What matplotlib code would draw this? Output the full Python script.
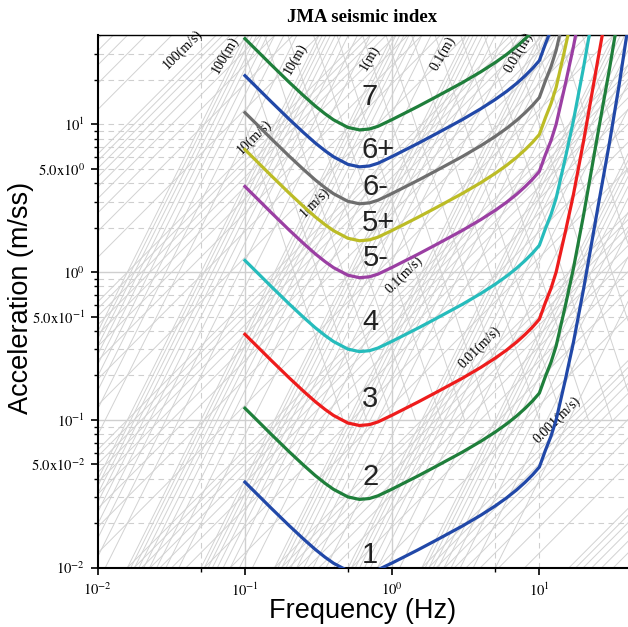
import numpy as np
import matplotlib.pyplot as plt
from matplotlib.ticker import FixedLocator, NullFormatter

plt.rcParams['mathtext.fontset'] = 'stix'

# frequency points of the intensity boundary curves (Hz)
freq = [0.1, 0.12, 0.15, 0.2, 0.25, 0.3, 0.35, 0.4, 0.5, 0.6, 0.7, 0.8, 1,
        1.5, 2, 3, 4, 5, 6, 7, 8, 9, 10, 11, 12, 13, 14, 15, 17, 20, 25,
        30, 35, 40]

# log10 of acceleration (m/ss) read along each boundary
log_acc_7 = [1.579, 1.501, 1.405, 1.284, 1.194, 1.124, 1.071, 1.030, 0.979,
             0.962, 0.968, 0.986, 1.032, 1.121, 1.187, 1.282, 1.355, 1.417,
             1.473, 1.526, 1.578, 1.629]
log_acc_6p = [1.329, 1.251, 1.155, 1.034, 0.944, 0.874, 0.821, 0.780, 0.729,
              0.712, 0.718, 0.736, 0.782, 0.871, 0.937, 1.032, 1.105, 1.167,
              1.223, 1.276, 1.328, 1.379, 1.431, 1.545, 1.64]
log_acc_6m = [1.079, 1.001, 0.905, 0.784, 0.694, 0.624, 0.571, 0.530, 0.479,
              0.462, 0.468, 0.486, 0.532, 0.621, 0.687, 0.782, 0.855, 0.917,
              0.973, 1.026, 1.078, 1.129, 1.181, 1.295, 1.39, 1.50, 1.64]
log_acc_5p = [0.829, 0.751, 0.655, 0.534, 0.444, 0.374, 0.321, 0.280, 0.229,
              0.212, 0.218, 0.236, 0.282, 0.371, 0.437, 0.532, 0.605, 0.667,
              0.723, 0.776, 0.828, 0.879, 0.931, 1.045, 1.14, 1.25, 1.39,
              1.52, 1.77]
log_acc_5m = [0.579, 0.501, 0.405, 0.284, 0.194, 0.124, 0.071, 0.030, -0.021,
              -0.038, -0.032, -0.014, 0.032, 0.121, 0.187, 0.282, 0.355,
              0.417, 0.473, 0.526, 0.578, 0.629, 0.681, 0.795, 0.89, 1.00,
              1.14, 1.27, 1.52, 1.89]
log_acc_4 = [0.079, 0.001, -0.095, -0.216, -0.306, -0.376, -0.429, -0.470,
             -0.521, -0.538, -0.532, -0.514, -0.468, -0.379, -0.313, -0.218,
             -0.145, -0.083, -0.027, 0.026, 0.078, 0.129, 0.181, 0.295, 0.39,
             0.50, 0.64, 0.77, 1.02, 1.39, 1.94]
log_acc_3 = [-0.421, -0.499, -0.595, -0.716, -0.806, -0.876, -0.929, -0.970,
             -1.021, -1.038, -1.032, -1.014, -0.968, -0.879, -0.813, -0.718,
             -0.645, -0.583, -0.527, -0.474, -0.422, -0.371, -0.319, -0.205,
             -0.11, 0.00, 0.14, 0.27, 0.52, 0.89, 1.44, 1.88]
log_acc_2 = [-0.921, -0.999, -1.095, -1.216, -1.306, -1.376, -1.429, -1.470,
             -1.521, -1.538, -1.532, -1.514, -1.468, -1.379, -1.313, -1.218,
             -1.145, -1.083, -1.027, -0.974, -0.922, -0.871, -0.819, -0.705,
             -0.61, -0.50, -0.36, -0.23, 0.02, 0.39, 0.94, 1.38, 1.78]
log_acc_1 = [-1.421, -1.499, -1.595, -1.716, -1.806, -1.876, -1.929, -1.970,
             -2.021, -2.038, -2.032, -2.014, -1.968, -1.879, -1.813, -1.718,
             -1.645, -1.583, -1.527, -1.474, -1.422, -1.371, -1.319, -1.205,
             -1.11, -1.00, -0.86, -0.73, -0.48, -0.11, 0.44, 0.88, 1.28, 1.66]

curve_data = [log_acc_7, log_acc_6p, log_acc_6m, log_acc_5p, log_acc_5m,
              log_acc_4, log_acc_3, log_acc_2, log_acc_1]
curve_colors = ['#1f7f3b', '#2148a8', '#6e6e6e', '#bcbc26', '#9b3fa3',
                '#26bcbc', '#ee1c1c', '#1f7f3b', '#2148a8']

# intensity labels and where they sit (freq, acc)
scale_names = ['7', '6+', '6-', '5+', '5-', '4', '3', '2', '1']
scale_pos = [(0.70, 15.3), (0.80, 6.7), (0.77, 3.77), (0.80, 2.15),
             (0.77, 1.245), (0.71, 0.459), (0.71, 0.138), (0.71, 0.041),
             (0.71, 0.0122)]

# tripartite background: velocity (m/s) and displacement (m) lines
vel_decades = [1e-5, 1e-4, 1e-3, 1e-2, 1e-1, 1, 10, 100]
disp_decades = [1e-5, 1e-4, 1e-3, 1e-2, 1e-1, 1, 10]
steps = [1, 2, 3, 4, 5, 6, 7, 8, 9]
back_decades = [1e-2, 1e-1, 1, 10, 100, 1e3, 1e4, 1e5]
back_steps = [1, 3]

vel_labels = ['100(m/s)', '10(m/s)', '1(m/s)', '0.1(m/s)', '0.01(m/s)',
              '0.001(m/s)']
vel_label_pos = [(0.0379, 31.8), (0.116, 8.2), (0.30, 2.95), (1.205, 0.956),
                 (3.95, 0.311), (13.1, 0.0998)]
disp_labels = ['100(m)', '10(m)', '1(m)', '0.1(m)', '0.01(m)']
disp_label_pos = [(0.0728, 29.4), (0.22, 27.7), (0.698, 28.1), (2.21, 29.9),
                  (7.24, 30.8)]

fig = plt.figure(figsize=(6.28, 6.27), dpi=100)
ax = fig.add_axes([0.1556, 0.0946, 0.8444, 0.8491])
ax.set_xscale('log')
ax.set_yscale('log')
ax.set_xlim(0.01, 40)
ax.set_ylim(0.01, 40)

gc = '#d2d2d2'
fline = np.array([0.01, 40.0])
for dec in vel_decades:
    for m in steps:
        v = m * dec
        ax.plot(fline, 2 * np.pi * fline * v, color=gc, lw=0.7, zorder=1)
for dec in disp_decades:
    for m in steps:
        d = m * dec
        ax.plot(fline, (2 * np.pi * fline) ** 2 * d, color=gc, lw=0.7, zorder=1)
ax.plot(fline, (2 * np.pi * fline) ** 2 * 100, color=gc, lw=0.7, zorder=1)
for dec in back_decades:
    for m in back_steps:
        c = m * dec
        f_end = min(40.0, (c / 0.1) ** (1 / 3))
        fback = np.array([0.1, f_end])
        ax.plot(fback, c * fback ** -3.0, color=gc, lw=0.7, zorder=1)

# grid
for y in [2, 3, 4, 5, 6, 7, 8, 9]:
    for dec in [0.01, 0.1, 1, 10]:
        ax.axhline(y * dec, color='#cfcfcf', lw=0.8, ls=(0, (5, 4)), zorder=0.5)
ax.axhline(10, color='#cfcfcf', lw=0.8, ls=(0, (5, 4)), zorder=0.5)
for y in [0.1, 1]:
    ax.axhline(y, color='#cfcfcf', lw=1.0, zorder=0.5)
for x in [0.05, 0.5, 5, 10]:
    ax.axvline(x, color='#cfcfcf', lw=0.8, ls=(0, (5, 4)), zorder=0.5)
for x in [0.1, 1]:
    ax.axvline(x, color='#cfcfcf', lw=1.0, zorder=0.5)

for txt, (fx, ay) in zip(vel_labels, vel_label_pos):
    ax.text(fx, ay, txt, rotation=45, ha='center', va='center',
            family='Liberation Serif', fontsize=10, zorder=2)
for txt, (fx, ay) in zip(disp_labels, disp_label_pos):
    ax.text(fx, ay, txt, rotation=60, ha='center', va='center',
            family='Liberation Serif', fontsize=10, zorder=2)

for vals, col in zip(curve_data, curve_colors):
    ax.plot(freq[:len(vals)], 10 ** np.array(vals), color=col, lw=2.3,
            zorder=3, solid_joinstyle='round')

for name, (fx, ay) in zip(scale_names, scale_pos):
    ax.text(fx, ay, name, ha='center', va='center', family='Liberation Sans',
            fontsize=21, color='#222222', zorder=4)

# ticks
ax.xaxis.set_major_locator(FixedLocator([0.01, 0.1, 1, 10]))
ax.set_xticklabels(['$10^{-2}$', '$10^{-1}$', '$10^{0}$', '$10^{1}$'])
ax.xaxis.set_minor_locator(FixedLocator([0.05, 0.5, 5]))
ax.xaxis.set_minor_formatter(NullFormatter())
ax.yaxis.set_major_locator(FixedLocator([0.01, 0.05, 0.1, 0.5, 1, 5, 10]))
ax.set_yticklabels(['$10^{-2}$', '$5.0\\mathrm{x}10^{-2}$', '$10^{-1}$',
                    '$5.0\\mathrm{x}10^{-1}$', '$10^{0}$',
                    '$5.0\\mathrm{x}10^{0}$', '$10^{1}$'])
yminor = [m * d for d in [0.01, 0.1, 1] for m in [2, 3, 4, 6, 7, 8, 9]] + [20, 30]
ax.yaxis.set_minor_locator(FixedLocator(yminor))
ax.yaxis.set_minor_formatter(NullFormatter())
ax.tick_params(which='major', direction='out', length=5, width=1.2,
               labelsize=10.5, pad=4)
ax.tick_params(which='minor', direction='out', length=3, width=1.0)
ax.tick_params(axis='x', which='major', pad=5)

ax.spines['right'].set_visible(False)
for s in ['left', 'bottom']:
    ax.spines[s].set_linewidth(1.5)
ax.spines['top'].set_linewidth(1.0)

fig.text(0.577, 1 - 618 / 627, 'Frequency (Hz)', ha='center', va='baseline',
         family='Liberation Sans', fontsize=19.5)
fig.text(21 / 628, 1 - 298 / 627, 'Acceleration (m/ss)', ha='center',
         va='center', rotation=90, family='Liberation Sans', fontsize=19.5)
fig.text(0.577, 1 - 17 / 627, 'JMA seismic index', ha='center', va='center',
         family='Liberation Serif', fontweight='bold', fontsize=13.5)

fig.savefig('out.png', dpi=100)
